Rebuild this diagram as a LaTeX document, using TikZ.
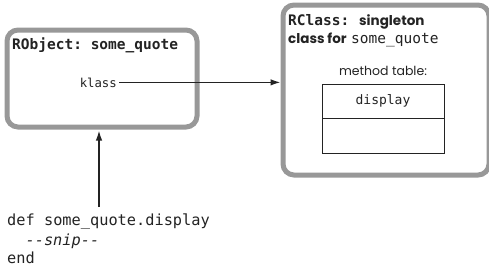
\documentclass[tikz,border=0pt]{standalone}
\usepackage{fontspec}
\setmainfont{Poppins}
\setmonofont{DejaVu Sans Mono}
\usetikzlibrary{arrows.meta}
\definecolor{framegray}{RGB}{152,152,152}
\definecolor{ink}{RGB}{35,35,35}
\begin{document}
\begin{tikzpicture}[x=1pt,y=-1pt,
  objframe/.style={draw=framegray, line width=5pt, rounded corners=11pt, fill=white,
    inner sep=0pt, anchor=north west},
  tablebox/.style={draw=ink, line width=1.3pt, inner sep=0pt, anchor=north west},
  txt/.style={inner sep=0pt, text=ink},
  link/.style={draw=ink, line width=1.4pt, -{Latex[length=10pt,width=6.5pt]}},
]
\useasboundingbox (0,0) rectangle (489,279);

% object box
\node[objframe, minimum width=190pt, minimum height=97pt] (obj) at (4.5,27.5) {};
\node[txt, anchor=base west, font=\fontsize{14.5}{16}\ttfamily\bfseries] (objtitle) at (12,49) {RObject: some\_quote};
\node[txt, anchor=base east, inner xsep=2pt, font=\fontsize{12.3}{14}\ttfamily] (klass) at (119,87) {klass};

% singleton class box
\node[objframe, minimum width=206pt, minimum height=170pt] (cls) at (280.5,2.5) {};
\node[txt, anchor=base west, font=\fontsize{14.5}{16}\ttfamily\bfseries] (clsA) at (288,25) {RClass:};
\node[txt, anchor=base west, font=\fontsize{13.5}{16}\bfseries] (clsB) at (359,25) {singleton};
\node[txt, anchor=base west, font=\fontsize{13.5}{16}\bfseries] (clsC) at (288,43) {class for};
\node[txt, anchor=base west, font=\fontsize{14.5}{16}\ttfamily] (clsD) at (351,43) {some\_quote};
\node[txt, anchor=base, font=\fontsize{12.5}{14}\selectfont] (mtlabel) at (383,75) {method table:};

% method table
\node[tablebox, minimum width=122pt, minimum height=34pt] (row1) at (322,84) {};
\node[tablebox, minimum width=122pt, minimum height=35pt] (row2) at (322,118) {};
\node[txt, anchor=base, font=\fontsize{13}{15}\ttfamily] (meth) at (383,104) {display};

% method definition
\node[txt, anchor=base west, font=\fontsize{15.3}{17}\ttfamily] (code1) at (7,225) {def some\_quote.display};
\node[txt, anchor=base west, font=\fontsize{15.3}{17}\ttfamily\itshape] (code2) at (25.4,245) {-{}-snip-{}-};
\node[txt, anchor=base west, font=\fontsize{15.3}{17}\ttfamily] (code3) at (7,263) {end};
\coordinate (src) at (99,207);

% connectors
\draw[link] (klass.east) -- (klass.east -| cls.west);
\draw[link, shorten >=1pt] (src) -- (src |- obj.south);
\end{tikzpicture}
\end{document}
